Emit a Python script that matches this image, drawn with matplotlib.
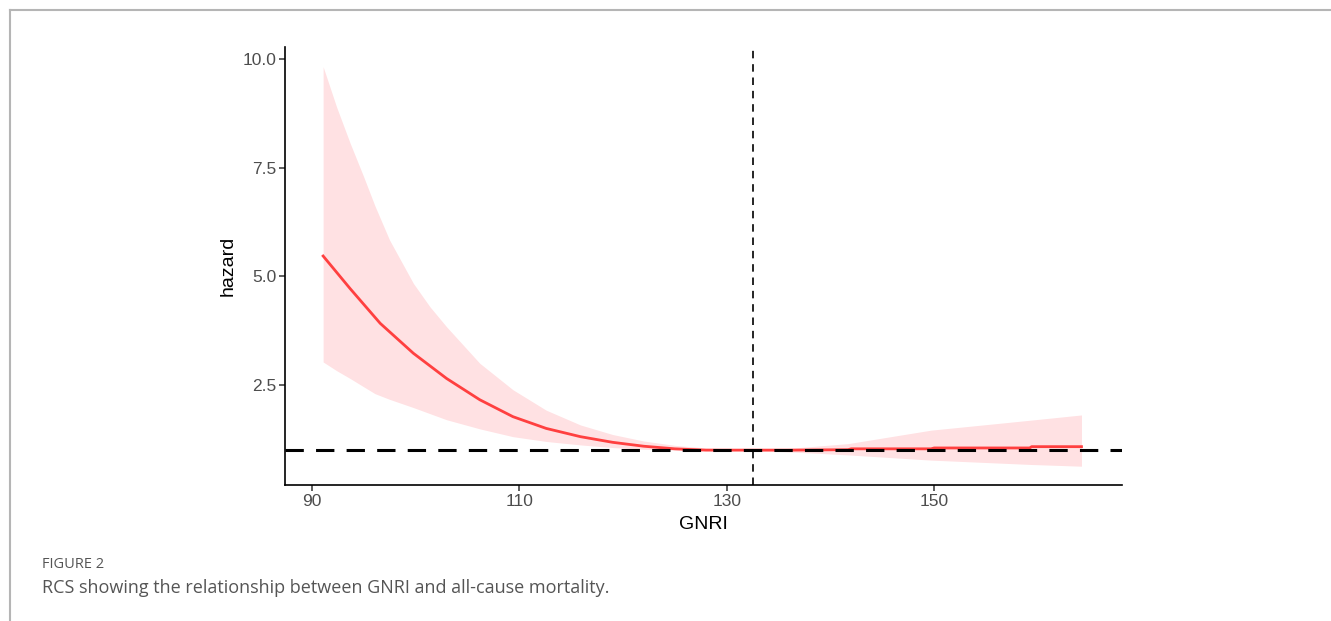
import numpy as np
import matplotlib
matplotlib.use("Agg")
import matplotlib.pyplot as plt
from matplotlib.lines import Line2D

# hazard curve
gnri = [91.1, 93.7, 96.6, 99.8, 103.0, 106.2, 109.4, 112.6, 115.9, 119.0, 122.0,
        125.0, 128.0, 132.5, 136.0, 141.7, 142.0, 149.7, 150.0, 159.2, 159.4, 164.2]
hazard = [5.47, 4.72, 3.92, 3.23, 2.65, 2.16, 1.77, 1.50, 1.31, 1.18, 1.09,
          1.03, 1.00, 1.00, 1.00, 1.01, 1.03, 1.03, 1.05, 1.05, 1.08, 1.08]

# confidence band
band_x = [91.1, 92.4, 93.7, 95.0, 96.1, 97.5, 99.8, 101.4, 103.0, 106.2, 109.4, 112.6, 115.9,
          119.0, 122.0, 125.0, 128.0, 132.5, 136.0, 141.7, 149.7, 159.3, 164.2]
band_hi = [9.83, 8.90, 8.07, 7.30, 6.62, 5.84, 4.84, 4.30, 3.84, 3.00, 2.39, 1.92, 1.58,
           1.36, 1.21, 1.11, 1.05, 1.01, 1.04, 1.15, 1.46, 1.69, 1.81]
band_lo = [3.03, 2.83, 2.65, 2.46, 2.30, 2.17, 1.98, 1.84, 1.70, 1.49, 1.31, 1.20, 1.12,
           1.06, 1.02, 1.00, 0.99, 0.99, 0.96, 0.89, 0.77, 0.67, 0.63]

cutoff = 132.5
ref_hazard = 1.0

fig = plt.figure(figsize=(13.31, 6.21), dpi=100)
ax = fig.add_axes([0.2144, 0.219, 0.6283, 0.7058])

ax.fill_between(band_x, band_lo, band_hi, color="#ffe1e3", lw=0, zorder=1)
ax.plot(gnri, hazard, color="#ff4040", lw=2.0, zorder=2)
ax.axhline(ref_hazard, color="black", lw=2.2, dashes=(6, 4), zorder=3)
ax.axvline(cutoff, color="black", lw=1.2, dashes=(4.5, 3.5), zorder=3)

ax.set_xlim(87.46, 168.07)
ax.set_ylim(0.197, 10.29)
ax.set_xticks([90, 110, 130, 150])
ax.set_yticks([2.5, 5.0, 7.5, 10.0])
ax.set_yticklabels(["2.5", "5.0", "7.5", "10.0"])

for s in ["top", "right"]:
    ax.spines[s].set_visible(False)
for s in ["left", "bottom"]:
    ax.spines[s].set_linewidth(1.2)
    ax.spines[s].set_color("black")

ax.tick_params(length=4, width=1.1, color="#333333", labelcolor="#4d4d4d",
               labelsize=12.5, pad=2.5)
for lab in ax.get_xticklabels() + ax.get_yticklabels():
    lab.set_family("Liberation Sans")

ax.set_xlabel("GNRI", fontsize=14, family="Liberation Sans", labelpad=5)
ax.set_ylabel("hazard", fontsize=14, family="Liberation Sans", labelpad=4)

# page frame lines
fig.add_artist(Line2D([10 / 1331, 1], [1 - 10 / 621, 1 - 10 / 621],
                      transform=fig.transFigure, color="#b5b5b5", lw=1.5))
fig.add_artist(Line2D([10 / 1331, 10 / 1331], [0, 1 - 10 / 621],
                      transform=fig.transFigure, color="#b5b5b5", lw=1.5))

fig.text(42 / 1331, 1 - 564 / 621, "FIGURE 2", fontsize=10.5, color="#555555",
         family="Open Sans", va="center")
fig.text(42 / 1331, 1 - 588 / 621,
         "RCS showing the relationship between GNRI and all-cause mortality.",
         fontsize=13, color="#555555", family="Open Sans", va="center")

fig.savefig("out.png", dpi=100)
